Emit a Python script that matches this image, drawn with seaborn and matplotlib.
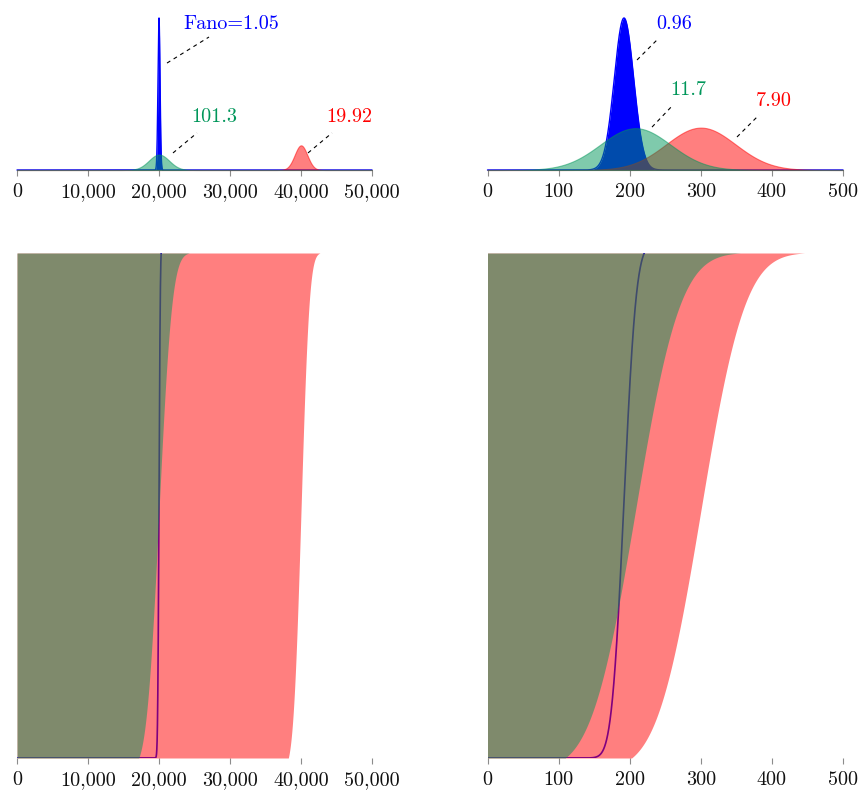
import math
import numpy as np
import matplotlib
matplotlib.use("Agg")
import matplotlib.pyplot as plt
import seaborn as sns

# ---------------- data ----------------
series_names = ["blue", "green", "red"]
left_means = [20000, 20000, 40000]
left_fanos = [1.05, 101.3, 19.92]
left_labels = ["Fano=1.05", "101.3", "19.92"]
right_means = [192, 208, 300]
right_fanos = [0.96, 11.7, 7.90]
right_labels = ["0.96", "11.7", "7.90"]
left_ticks = [0, 10000, 20000, 30000, 40000, 50000]
left_ticklabels = ["0", "10,000", "20,000", "30,000", "40,000", "50,000"]
right_ticks = [0, 100, 200, 300, 400, 500]
right_ticklabels = ["0", "100", "200", "300", "400", "500"]
cut_lo_sd = 2.0   # lower-panel fills: distribution truncated to [mean - 2 sd, mean + 3 sd]
cut_hi_sd = 3.0
line_hi_sd = 2.1  # lower-panel blue line: distribution truncated at mean + 2.1 sd

colors = {"blue": "#0000ff", "green": "#00965a", "red": "#ff0000"}

sns.set_theme(style="white")
plt.rcParams["font.family"] = ["cmr10", "DejaVu Serif"]
plt.rcParams["axes.unicode_minus"] = False
plt.rcParams["axes.formatter.use_mathtext"] = False
FS = 14.5

W, H = 860, 791
fig = plt.figure(figsize=(W / 100, H / 100), dpi=100)


def ax_at(x0, x1, ytop, ybot):
    return fig.add_axes([x0 / W, 1 - ybot / H, (x1 - x0) / W, (ybot - ytop) / H])


def style(ax, xmax, ticks, ticklabels):
    for s in ax.spines.values():
        s.set_visible(False)
    ax.set_xlim(0, xmax)
    ax.set_xticks(ticks)
    ax.set_xticklabels(ticklabels, fontsize=FS, color="#111111")
    ax.set_yticks([])
    ax.tick_params(axis="x", bottom=True, direction="out", length=4.2, width=0.8,
                   color="#8c8c8c", pad=5.5)
    ax.grid(False)
    ax.set_facecolor("none")


def pdf(x, m, sd):
    return np.exp(-0.5 * ((x - m) / sd) ** 2) / (sd * math.sqrt(2 * math.pi))


def cdf(x, m, sd):
    x = np.atleast_1d(np.asarray(x, dtype=float))
    return 0.5 * (1 + np.array([math.erf(v) for v in (x - m) / (sd * math.sqrt(2))]))


def panel_top(ax, means, fanos, xmax):
    x = np.linspace(0, xmax, 40001)
    sds = [math.sqrt(f * m) for m, f in zip(means, fanos)]
    dens = {n: pdf(x, m, s) for n, m, s in zip(series_names, means, sds)}
    ax.fill_between(x, 0, dens["blue"], color=colors["blue"], lw=0, zorder=1)
    sns.lineplot(x=x, y=dens["blue"], ax=ax, color=colors["blue"], lw=1.0,
                 zorder=1.5, clip_on=False)
    for k, n in enumerate(["red", "green"]):
        ax.fill_between(x, 0, dens[n], color=colors[n], alpha=0.5, lw=0.8,
                        edgecolor=colors[n], zorder=2 + k, clip_on=False)
    peak = dens["blue"].max()
    ax.set_ylim(0, peak * 155 / 152)


def panel_bottom(ax, means, fanos, xmax):
    x = np.linspace(0, xmax, 20001)
    sds = [math.sqrt(f * m) for m, f in zip(means, fanos)]
    mb, sb = means[0], sds[0]
    hi = mb + line_hi_sd * sb
    xl = x[x <= hi]
    fb = cdf(xl, mb, sb) / cdf(hi, mb, sb)[0]
    sns.lineplot(x=xl, y=fb, ax=ax, color=colors["blue"], lw=1.2, zorder=1)
    for k, n in enumerate(["red", "green"]):
        i = series_names.index(n)
        m, s = means[i], sds[i]
        flo = cdf(m - cut_lo_sd * s, m, s)[0]
        fhi = cdf(m + cut_hi_sd * s, m, s)[0]
        b = np.clip((cdf(x, m, s) - flo) / (fhi - flo), 0, 1)
        ax.fill_between(x, b, 1, color=colors[n], alpha=0.5, lw=0, zorder=2 + k)
    ax.set_ylim(0, 1)


def annotate(ax, label, color, p0, p1, ptxt):
    ax.plot([p0[0], p1[0]], [p0[1], p1[1]], color="black", lw=0.8,
            ls=(0, (3.5, 3.5)), transform=ax.get_xaxis_transform(), zorder=5)
    ax.text(ptxt[0], ptxt[1], label, color=color, fontsize=FS, ha="left",
            va="center", transform=ax.get_xaxis_transform(), zorder=5)


# ---- top-left
ax1 = ax_at(17, 372, 15, 170)
panel_top(ax1, left_means, left_fanos, 50000)
style(ax1, 50000, left_ticks, left_ticklabels)
annotate(ax1, left_labels[0], colors["blue"], (21127, 0.690), (27042, 0.858), (23400, 0.942))
annotate(ax1, left_labels[1], colors["green"], (21972, 0.110), (25352, 0.239), (24550, 0.342))
annotate(ax1, left_labels[2], colors["red"], (40986, 0.110), (44366, 0.239), (43600, 0.342))

# ---- top-right
ax2 = ax_at(487.5, 843, 15, 170)
panel_top(ax2, right_means, right_fanos, 500)
style(ax2, 500, right_ticks, right_ticklabels)
annotate(ax2, right_labels[0], colors["blue"], (210.3, 0.710), (241.2, 0.852), (237.5, 0.942))
annotate(ax2, right_labels[1], colors["green"], (231.4, 0.277), (260.9, 0.419), (257.5, 0.516))
annotate(ax2, right_labels[2], colors["red"], (350.9, 0.213), (381.9, 0.355), (377.0, 0.445))

# ---- bottom-left
ax3 = ax_at(17, 372, 253, 758)
panel_bottom(ax3, left_means, left_fanos, 50000)
style(ax3, 50000, left_ticks, left_ticklabels)

# ---- bottom-right
ax4 = ax_at(487.5, 843, 253, 758)
panel_bottom(ax4, right_means, right_fanos, 500)
style(ax4, 500, right_ticks, right_ticklabels)

fig.savefig("out.png", dpi=100, facecolor="white")
